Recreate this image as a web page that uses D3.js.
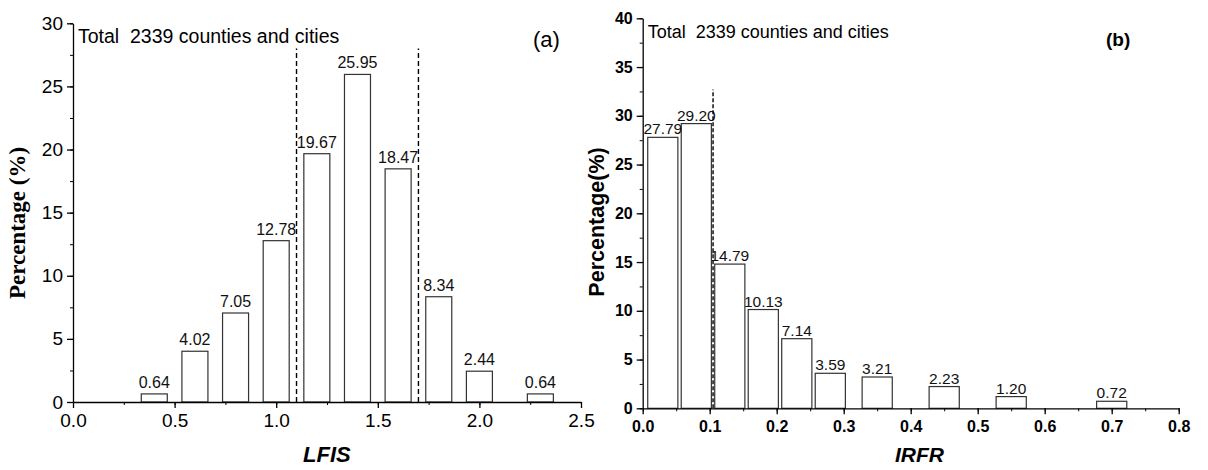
<!DOCTYPE html>
<html>
<head>
<meta charset="utf-8">
<script src="https://cdn.jsdelivr.net/npm/d3@7"></script>
<style>
  body { margin: 0; background: #fff; }
  svg text { font-family: "Liberation Sans", Arial, sans-serif; white-space: pre; }
</style>
</head>
<body>
<div class="chart"></div>
<script>
// panel (a)
var lfisBins = [0.4, 0.6, 0.8, 1.0, 1.2, 1.4, 1.6, 1.8, 2.0, 2.3];
var lfisPct = [0.64, 4.02, 7.05, 12.78, 19.67, 25.95, 18.47, 8.34, 2.44, 0.64];
var lfisCuts = [1.1, 1.7];
var lfisXTicks = [0, 0.5, 1.0, 1.5, 2.0, 2.5];
var lfisYTicks = [0, 5, 10, 15, 20, 25, 30];

// panel (b)
var irfrBins = [0.03, 0.08, 0.13, 0.18, 0.23, 0.28, 0.35, 0.45, 0.55, 0.70];
var irfrPct = [27.79, 29.20, 14.79, 10.13, 7.14, 3.59, 3.21, 2.23, 1.20, 0.72];
var irfrCuts = [0.105];
var irfrXTicks = [0, 0.1, 0.2, 0.3, 0.4, 0.5, 0.6, 0.7, 0.8];
var irfrYTicks = [0, 5, 10, 15, 20, 25, 30, 35, 40];

var svg = d3.select(".chart").append("svg")
    .attr("width", 1208)
    .attr("height", 470);

function drawPanel(opt) {
    var x = d3.scaleLinear().domain(opt.xDomain).range([opt.left, opt.right]);
    var y = d3.scaleLinear().domain(opt.yDomain).range([opt.bottom, opt.top]);
    var g = svg.append("g");

    // bars
    g.selectAll("rect.bar")
        .data(opt.values)
        .enter()
        .append("rect")
        .attr("class", "bar")
        .attr("x", function (d, i) { return x(opt.bins[i] - opt.barW / 2); })
        .attr("width", function () { return x(opt.barW) - x(0); })
        .attr("y", function (d) { return y(d); })
        .attr("height", function (d) { return y(0) - y(d); })
        .attr("fill", "#fff")
        .attr("stroke", "#333")
        .attr("stroke-width", 1.2);

    g.selectAll("text.val")
        .data(opt.values)
        .enter()
        .append("text")
        .attr("class", "val")
        .attr("x", function (d, i) { return x(opt.bins[i]); })
        .attr("y", function (d) { return y(d) - opt.labelGap; })
        .attr("text-anchor", "middle")
        .attr("font-size", opt.labelSize)
        .attr("fill", "#111")
        .text(function (d) { return d.toFixed(2); });

    // dashed cut lines
    g.selectAll("line.cut")
        .data(opt.cuts)
        .enter()
        .append("line")
        .attr("x1", function (d) { return x(d); })
        .attr("x2", function (d) { return x(d); })
        .attr("y1", y(0))
        .attr("y2", y(opt.cutTop))
        .attr("stroke", "#000")
        .attr("stroke-width", 1.4)
        .attr("stroke-dasharray", opt.dash);

    // minor ticks
    var minorX = d3.range(opt.xDomain[0], opt.xDomain[1] + 1e-9, opt.xStep / 2);
    var minorY = d3.range(opt.yDomain[0], opt.yDomain[1] + 1e-9, 2.5);
    g.append("g")
        .attr("transform", "translate(0," + y(0) + ")")
        .call(d3.axisBottom(x).tickValues(minorX).tickSize(3).tickFormat(""))
        .call(function (a) { a.select(".domain").remove(); });
    g.append("g")
        .attr("transform", "translate(" + x(0) + ",0)")
        .call(d3.axisLeft(y).tickValues(minorY).tickSize(3).tickFormat(""))
        .call(function (a) { a.select(".domain").remove(); });

    // main axes
    var xa = g.append("g")
        .attr("transform", "translate(0," + y(0) + ")")
        .call(d3.axisBottom(x).tickValues(opt.xTicks).tickSize(6).tickSizeOuter(0)
            .tickPadding(6).tickFormat(d3.format(".1f")));
    var ya = g.append("g")
        .attr("transform", "translate(" + x(0) + ",0)")
        .call(d3.axisLeft(y).tickValues(opt.yTicks).tickSize(6).tickSizeOuter(0)
            .tickPadding(4).tickFormat(d3.format("d")));
    [xa, ya].forEach(function (a) {
        a.selectAll("text")
            .attr("font-family", "Liberation Sans, Arial, sans-serif")
            .attr("font-size", opt.tickSize)
            .attr("font-weight", opt.tickWeight)
            .attr("fill", "#000");
        a.selectAll("line, path").attr("stroke", "#000").attr("stroke-width", 1.3);
    });

    g.append("text")
        .attr("x", opt.left + opt.noteDx)
        .attr("y", opt.noteY)
        .attr("font-size", opt.noteSize)
        .text("Total  2339 counties and cities");

    g.append("text")
        .attr("x", opt.tagX)
        .attr("y", opt.tagY)
        .attr("font-size", opt.tagSize)
        .attr("font-weight", opt.tagWeight)
        .text(opt.tag);

    g.append("text")
        .attr("x", opt.xTitleX)
        .attr("y", 462)
        .attr("font-size", opt.xTitleSize)
        .attr("font-weight", "bold")
        .attr("font-style", "italic")
        .text(opt.xTitle);

    g.append("text")
        .attr("transform", "translate(" + opt.yTitleX + "," + opt.yTitleY + ") rotate(-90)")
        .attr("text-anchor", "middle")
        .attr("font-size", opt.yTitleSize)
        .attr("font-weight", "bold")
        .style("font-family", opt.yTitleFont)
        .text(opt.yTitle);
}

drawPanel({
    bins: lfisBins, values: lfisPct, cuts: lfisCuts, cutTop: 28, dash: "5,3",
    xDomain: [0, 2.5], yDomain: [0, 30], xStep: 0.5,
    xTicks: lfisXTicks, yTicks: lfisYTicks,
    left: 73, right: 581, top: 23.3, bottom: 402,
    barW: 0.128, labelGap: 6, labelSize: 16,
    tickSize: 19, tickWeight: "normal",
    noteDx: 5, noteY: 43, noteSize: 19.5,
    tag: "(a)", tagX: 533, tagY: 47, tagSize: 22, tagWeight: "normal",
    xTitle: "LFIS", xTitleX: 303, xTitleSize: 22,
    yTitle: "Percentage (%)", yTitleX: 25, yTitleY: 223, yTitleSize: 23,
    yTitleFont: "Liberation Serif, Times New Roman, serif"
});

drawPanel({
    bins: irfrBins, values: irfrPct, cuts: irfrCuts, cutTop: 32.7, dash: "4,2",
    xDomain: [0, 0.8], yDomain: [0, 40], xStep: 0.1,
    xTicks: irfrXTicks, yTicks: irfrYTicks,
    left: 642.7, right: 1178.7, top: 18.3, bottom: 408.3,
    barW: 0.045, labelGap: 3, labelSize: 15.5,
    tickSize: 16, tickWeight: "bold",
    noteDx: 5, noteY: 38, noteSize: 18,
    tag: "(b)", tagX: 1106, tagY: 46, tagSize: 19, tagWeight: "bold",
    xTitle: "IRFR", xTitleX: 895, xTitleSize: 21,
    yTitle: "Percentage(%)", yTitleX: 604, yTitleY: 222, yTitleSize: 21.5,
    yTitleFont: "Liberation Sans, Arial, sans-serif"
});
</script>
</body>
</html>
